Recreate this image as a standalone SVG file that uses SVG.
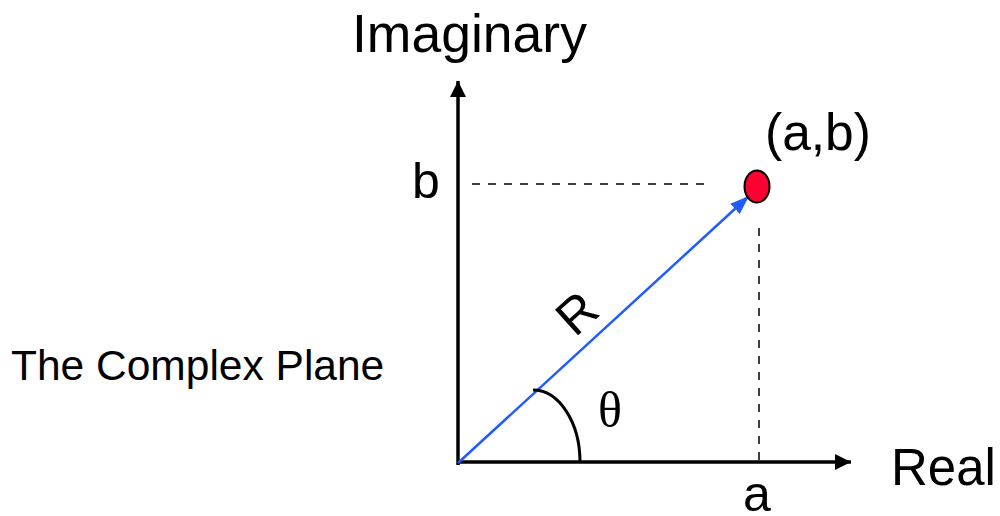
<svg xmlns="http://www.w3.org/2000/svg" width="1000" height="516" viewBox="0 0 1000 516">
<style>
.lbl{font-family:"Liberation Sans",Arial,Helvetica,sans-serif;fill:#000}
.axis{stroke:#000;stroke-width:3.5;fill:none}
.dash{stroke:#000;stroke-width:1.5;stroke-dasharray:8,8;fill:none}
</style>
<defs>
<marker id="ah" markerWidth="16" markerHeight="16" refX="16" refY="8" orient="auto" markerUnits="userSpaceOnUse">
<path d="M0,0 L16,8 L0,16 Z" fill="#000"/>
</marker>
<marker id="ahb" markerWidth="20" markerHeight="14" refX="19" refY="7" orient="auto" markerUnits="userSpaceOnUse">
<path d="M0,0 L19,7 L0,14 Z" fill="#1f5bff"/>
</marker>
</defs>
<rect width="1000" height="516" fill="#fff"/>
<g id="connectors">
<line class="axis" x1="458" y1="465" x2="458" y2="81" marker-end="url(#ah)"/>
<line class="axis" x1="457" y1="462" x2="851" y2="462" marker-end="url(#ah)"/>
<line class="dash" x1="472" y1="184" x2="706" y2="184"/>
<line class="dash" x1="759" y1="228" x2="759" y2="462"/>
<line x1="458" y1="463" x2="749" y2="196" stroke="#1f5bff" stroke-width="2.5" marker-end="url(#ahb)"/>
<path d="M533,390 A47,72 0 0 1 580,462" stroke="#000" stroke-width="3" fill="none"/>
</g>
<g id="point">
<ellipse cx="757" cy="186.5" rx="12.5" ry="16" fill="#ff0033" stroke="#000" stroke-width="2"/>
<text class="lbl" x="765" y="150" font-size="51.5">(a,b)</text>
</g>
<g id="labels">
<text class="lbl" x="352" y="52" font-size="53.5">Imaginary</text>
<text class="lbl" x="11" y="380" font-size="42.5">The Complex Plane</text>
<text class="lbl" x="412" y="198" font-size="50">b</text>
<text class="lbl" x="743" y="511" font-size="50">a</text>
<text class="lbl" x="891" y="485" font-size="51">Real</text>
<text class="lbl" font-size="50" transform="translate(575,338) rotate(-42)">R</text>
<text x="610" y="427" font-size="50" text-anchor="middle" font-family="'Liberation Serif','Times New Roman',serif">θ</text>
</g>
</svg>
